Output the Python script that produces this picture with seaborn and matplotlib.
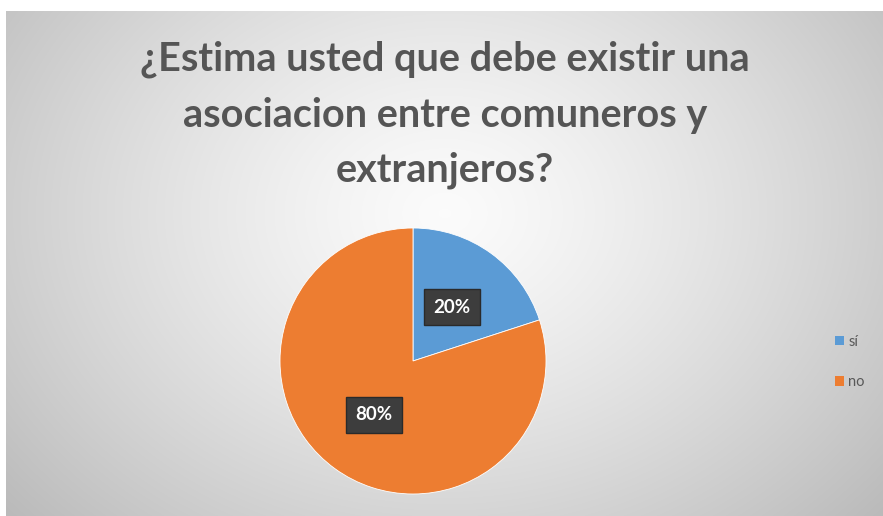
import numpy as np
import matplotlib
matplotlib.use("Agg")
import matplotlib.pyplot as plt
import seaborn as sns

# ---- data ----
categories = ["sí", "no"]
values = [20, 80]
title_text = "¿Estima usted que debe existir una\nasociacion entre comuneros y\nextranjeros?"
colors = ["#5B9BD5", "#ED7D31"]

sns.set_theme(style="white")
plt.rcParams['font.family'] = ['Lato', 'DejaVu Sans']

W, H = 883, 516
fig = plt.figure(figsize=(W / 100, H / 100), dpi=100)
fig.patch.set_facecolor("white")

# background chart area with radial gradient
bx0, by0, bx1, by1 = 6, 11, 883, 516
bg = fig.add_axes([bx0 / W, 1 - by1 / H, (bx1 - bx0) / W, (by1 - by0) / H], zorder=0)
gw, gh = bx1 - bx0, by1 - by0
yy, xx = np.mgrid[0:gh, 0:gw]
cx, cy = gw * 0.50, gh * 0.40
r = np.sqrt(((xx - cx) / (gw * 0.55)) ** 2 + ((yy - cy) / (gh * 0.75)) ** 2)
r = np.clip(r, 0, 1.2)
val = 0.985 - 0.20 * r ** 1.3
img = np.dstack([val, val, val])
img = np.clip(img, 0, 1)
bg.imshow(img, aspect="auto", interpolation="bilinear")
bg.set_axis_off()

# title
fig.text(445 / W, 1 - 115 / H, title_text, ha="center", va="center",
         fontsize=28.5, fontweight="bold", color="#555555", linespacing=1.6,
         zorder=5)

# pie
pcx, pcy, pr = 413, 361, 133
ax = fig.add_axes([(pcx - pr) / W, (H - pcy - pr) / H, 2 * pr / W, 2 * pr / H], zorder=2)
ax.set_facecolor("none")
wedges, texts, autotexts = ax.pie(
    values, colors=colors, startangle=90, counterclock=False,
    autopct=lambda p: f"{p:.0f}%", pctdistance=0.5,
    wedgeprops=dict(edgecolor="white", linewidth=0.6),
    radius=1.0,
)
for t in autotexts:
    t.set_color("white")
    t.set_fontsize(13.5)
    t.set_fontweight("bold")
    t.set_bbox(dict(boxstyle="square,pad=0.5", facecolor="#3d3d3d", edgecolor="#2a2a2a",
                    linewidth=1.0))
ax.set_xlim(-1, 1)
ax.set_ylim(-1, 1)
ax.set_aspect("equal")
ax.set_axis_off()

# legend
leg = fig.legend(wedges, categories, loc="center left",
                 bbox_to_anchor=(822 / W, 1 - 362 / H),
                 frameon=False, fontsize=10.5, labelcolor="#595959",
                 handlelength=0.6, handleheight=0.6, handletextpad=0.3,
                 labelspacing=1.8)
for h in leg.legend_handles:
    h.set_edgecolor("none")

fig.savefig("out.png", dpi=100)
